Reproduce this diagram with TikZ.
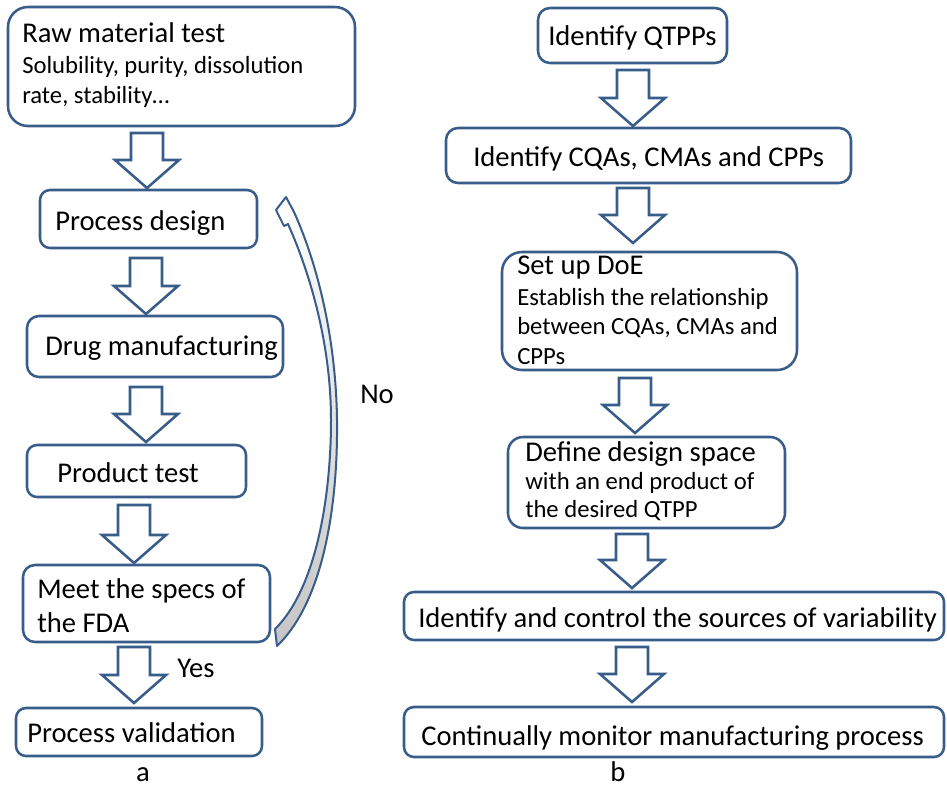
\documentclass[tikz,border=0pt]{standalone}
\usepackage{fontspec}
\setmainfont{Carlito}
\usetikzlibrary{calc}
\definecolor{boxblue}{RGB}{56,93,138}
\newcommand{\bigt}{\fontsize{21.45}{25}\selectfont}
\newcommand{\smt}{\fontsize{18.5}{22}\selectfont}
\newcommand{\pbox}[6]{%
 \pgfmathsetmacro{\pbW}{(#4-#2)*0.75}\pgfmathsetmacro{\pbH}{(#5-#3)*0.75}\pgfmathsetmacro{\pbR}{#6*0.75}%
 \node[pbox, rounded corners=\pbR pt, minimum width=\pbW pt, minimum height=\pbH pt] (#1) at ({(#2+#4)/2},{(#3+#5)/2}) {};}
\newcommand{\barrow}[2]{\draw[barr] let \p1=(#1), \p2=(#2) in
 (\x1-12pt,\y1) -- (\x1+12pt,\y1) -- (\x1+12pt,\y2+21pt) -- (\x1+24pt,\y2+21pt) -- (\x1,\y2) -- (\x1-24pt,\y2+21pt) -- (\x1-12pt,\y2+21pt) -- cycle;}
\begin{document}
\begin{tikzpicture}[x=0.75pt,y=-0.75pt,
  pbox/.style={draw=boxblue, line width=1.9pt, fill=white, inner sep=0pt, outer sep=0pt},
  barr/.style={draw=boxblue, line width=1.9pt, fill=white, line join=miter},
  lbl/.style={anchor=base west, inner sep=0pt, text=black},
  clbl/.style={anchor=base, inner sep=0pt, text=black}]
\useasboundingbox (0,0) rectangle (947,790);
\fill[white] (0,0) rectangle (947,790);
% ---------- left column boxes
\pbox{raw}{8}{7}{355}{126}{20}
\pbox{pd}{40}{190}{257}{248}{10}
\pbox{dm}{27}{316}{283}{377}{12}
\pbox{pt}{27}{445}{246}{497}{10}
\pbox{ms}{23}{565}{270}{642}{12}
\pbox{pv}{16}{708}{262}{756}{10}
% ---------- right column boxes
\pbox{q}{538}{8}{727}{63}{12}
\pbox{cqa}{446}{128}{851}{183}{12}
\pbox{doe}{502}{252}{797}{370}{20}
\pbox{def}{508}{437}{785}{528}{15}
\pbox{var}{404}{592}{944}{640}{10}
\pbox{mon}{404}{707}{944}{757}{10}
% ---------- texts
\node[lbl] (raw-t1) at (22,42) {\bigt Raw material test};
\node[lbl] (raw-t2) at (22,73) {\smt Solubility, purity, dissolution};
\node[lbl] (raw-t3) at (22,103) {\smt rate, stability…};
\node[lbl] (pd-t) at (55,230) {\bigt Process design};
\node[lbl] (dm-t) at (45,355) {\bigt Drug manufacturing};
\node[lbl] (pt-t) at (57,482) {\bigt Product test};
\node[lbl] (ms-t1) at (37,598) {\bigt Meet the specs of};
\node[lbl] (ms-t2) at (37,632) {\bigt the FDA};
\node[lbl] (yes) at (177,677) {\bigt Yes};
\node[lbl] (pv-t) at (27,742) {\bigt Process validation};
\node[clbl] (la) at (143,781) {\bigt a};
\node[lbl] (no) at (360,403) {\bigt No};
\node[lbl] (q-t) at (548,45) {\bigt Identify QTPPs};
\node[lbl] (cqa-t) at (473,166) {\bigt Identify CQAs, CMAs and CPPs};
\node[lbl] (doe-t1) at (517,274) {\bigt Set up DoE};
\node[lbl] (doe-t2) at (517,305) {\smt Establish the relationship};
\node[lbl] (doe-t3) at (517,334) {\smt between CQAs, CMAs and};
\node[lbl] (doe-t4) at (517,364) {\smt CPPs};
\node[lbl] (def-t1) at (525,461) {\bigt Define design space};
\node[lbl] (def-t2) at (525,489) {\smt with an end product of};
\node[lbl] (def-t3) at (525,517) {\smt the desired QTPP};
\node[lbl] (var-t) at (418,627) {\bigt Identify and control the sources of variability};
\node[lbl] (mon-t) at (421,745) {\bigt Continually monitor manufacturing process};
\node[clbl] (lb) at (618,781) {\bigt b};
% ---------- block arrows (left)
\coordinate (a1s) at (147,133); \coordinate (a1e) at (147,188);
\coordinate (a2s) at (146,258); \coordinate (a2e) at (146,314);
\coordinate (a3s) at (146,387); \coordinate (a3e) at (146,442);
\coordinate (a4s) at (134,505); \coordinate (a4e) at (134,563);
\coordinate (a5s) at (134,647); \coordinate (a5e) at (134,703);
\barrow{a1s}{a1e}
\barrow{a2s}{a2e}
\barrow{a3s}{a3e}
\barrow{a4s}{a4e}
\barrow{a5s}{a5e}
% ---------- block arrows (right)
\coordinate (b1s) at (633,70); \coordinate (b1e) at (633,126);
\coordinate (b2s) at (633,188); \coordinate (b2e) at (633,243);
\coordinate (b3s) at (635,378); \coordinate (b3e) at (635,433);
\coordinate (b4s) at (632,534); \coordinate (b4e) at (632,588);
\coordinate (b5s) at (632,647); \coordinate (b5e) at (632,702);
\barrow{b1s}{b1e}
\barrow{b2s}{b2e}
\barrow{b3s}{b3e}
\barrow{b4s}{b4e}
\barrow{b5s}{b5e}
% ---------- curved "No" arrow
\draw[draw=boxblue, line width=1.5pt, line join=round, top color=white, bottom color=gray!45]
 (277,646) .. controls (325,600) and (338,500) .. (337,420)
 .. controls (336,340) and (318,265) .. (294,212)
 -- (286,197) -- (276,210) -- (284,226) -- (288,224)
 .. controls (313,280) and (331,350) .. (331,420)
 .. controls (331,500) and (315,590) .. (275,629) -- cycle;
\end{tikzpicture}
\end{document}
